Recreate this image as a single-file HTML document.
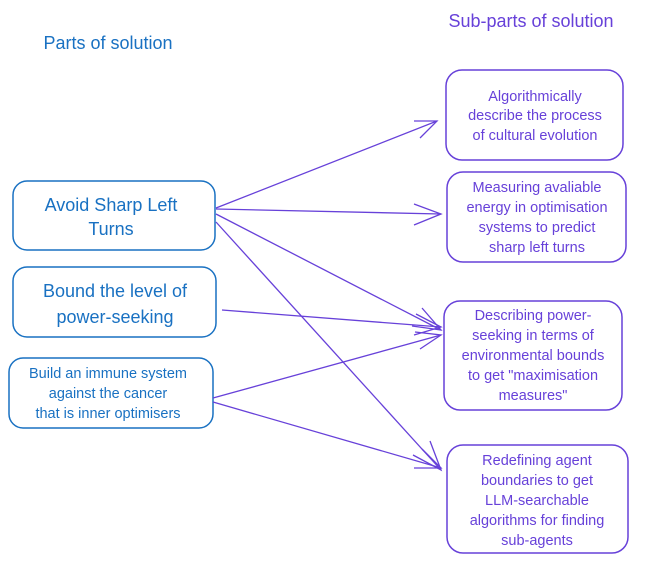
<!DOCTYPE html>
<html><head><style>
body{margin:0;background:#fff;}
svg text{font-family:"Liberation Sans",sans-serif;}
</style></head><body>
<svg width="646" height="564" viewBox="0 0 646 564" xmlns="http://www.w3.org/2000/svg">
<g fill="none" stroke="#1971c2" stroke-width="1.5">
<rect x="13" y="181" width="202" height="69" rx="14"/>
<rect x="13" y="267" width="203" height="70" rx="14"/>
<rect x="9" y="358" width="204" height="70" rx="14"/>
</g>
<g fill="none" stroke="#6741d9" stroke-width="1.5">
<rect x="446" y="70" width="177" height="90" rx="16"/>
<rect x="447" y="172" width="179" height="90" rx="16"/>
<rect x="444" y="301" width="178" height="109" rx="16"/>
<rect x="447" y="445" width="181" height="108" rx="16"/>
<g stroke-width="1.3">
<line x1="216" y1="208" x2="437" y2="121"/><polyline points="414,121 437,121 420,138"/>
<line x1="216" y1="209" x2="441" y2="214"/><polyline points="414,204 441,214 414,225"/>
<line x1="216" y1="214" x2="441" y2="330"/><polyline points="422,308 441,330 412,326"/>
<line x1="216" y1="222" x2="441" y2="470"/><polyline points="430,441 441,470 413,455"/>
<line x1="222" y1="310" x2="441" y2="327"/><polyline points="416,314 441,327 414,335"/>
<line x1="213" y1="398" x2="441" y2="335"/><polyline points="415,332 441,335 420,349"/>
<line x1="213" y1="402" x2="441" y2="468"/><polyline points="422,449 441,468 414,468"/>
</g>
</g>
<g fill="#1971c2" font-size="18" text-anchor="middle">
<text x="108" y="49">Parts of solution</text>
<text x="111" y="211">Avoid Sharp Left</text>
<text x="111" y="235">Turns</text>
<text x="115" y="297">Bound the level of</text>
<text x="115" y="323">power-seeking</text>
<g font-size="14.5"><text x="108" y="378">Build an immune system</text>
<text x="108" y="398">against the cancer</text>
<text x="108" y="418">that is inner optimisers</text></g>
</g>
<g fill="#6741d9" font-size="14.5" text-anchor="middle">
<text x="531" y="27" font-size="18">Sub-parts of solution</text>
<text x="535" y="101">Algorithmically</text>
<text x="535" y="120">describe the process</text>
<text x="535" y="140">of cultural evolution</text>
<text x="537" y="192">Measuring avaliable</text>
<text x="537" y="212">energy in optimisation</text>
<text x="537" y="232">systems to predict</text>
<text x="537" y="252">sharp left turns</text>
<text x="533" y="320">Describing power-</text>
<text x="533" y="340">seeking in terms of</text>
<text x="533" y="360">environmental bounds</text>
<text x="533" y="380">to get "maximisation</text>
<text x="533" y="400">measures"</text>
<text x="537" y="465">Redefining agent</text>
<text x="537" y="485">boundaries to get</text>
<text x="537" y="505">LLM-searchable</text>
<text x="537" y="525">algorithms for finding</text>
<text x="537" y="545">sub-agents</text>
</g>
</svg>
</body></html>
